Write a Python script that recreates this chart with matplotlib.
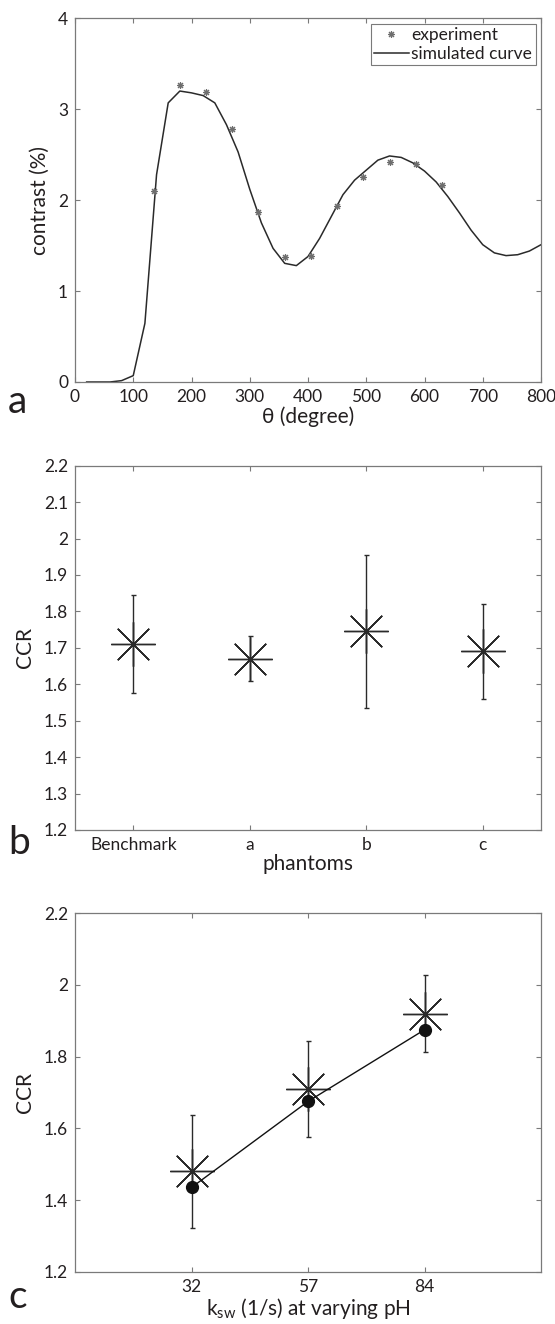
import matplotlib
matplotlib.use('Agg')
import matplotlib.pyplot as plt
import numpy as np

plt.rcParams['font.family'] = ['Lato', 'DejaVu Sans']
plt.rcParams['mathtext.fontset'] = 'custom'
plt.rcParams['mathtext.rm'] = 'Lato'
plt.rcParams['mathtext.it'] = 'Lato:italic'

# (a) contrast vs flip angle
theta_sim = [20, 40, 60, 80, 100, 120, 140, 160, 180, 200, 220, 240, 260, 280, 300,
             320, 340, 360, 380, 400, 420, 440, 460, 480, 500, 520, 540, 560, 580,
             600, 620, 640, 660, 680, 700, 720, 740, 760, 780, 800]
contrast_sim = [0.0, 0.0, 0.0, 0.015, 0.07, 0.645, 2.28, 3.07, 3.20, 3.18, 3.15, 3.07,
                2.83, 2.53, 2.12, 1.75, 1.47, 1.305, 1.28, 1.38, 1.58, 1.82, 2.06, 2.22,
                2.33, 2.44, 2.486, 2.47, 2.41, 2.32, 2.20, 2.04, 1.86, 1.67, 1.51, 1.42,
                1.39, 1.40, 1.44, 1.51]
theta_exp = [135, 180, 225, 270, 315, 360, 405, 450, 495, 540, 585, 630]
contrast_exp = [2.10, 3.27, 3.19, 2.78, 1.87, 1.38, 1.39, 1.94, 2.25, 2.42, 2.40, 2.17]

# (b) CCR per phantom
phantoms = ['Benchmark', 'a', 'b', 'c']
ccr_phantom = [1.71, 1.67, 1.745, 1.69]
ccr_phantom_err = [0.135, 0.062, 0.21, 0.13]

# (c) CCR vs exchange rate
ksw_labels = ['32', '57', '84']
ccr_meas = [1.48, 1.71, 1.92]
ccr_meas_err = [0.158, 0.135, 0.107]
ccr_sim = [1.435, 1.675, 1.875]

TXT = '#231f20'
SPINE = '#7a7a7a'
LINE = '#2a2a2a'

W, H = 555, 1324
fig = plt.figure(figsize=(W / 100, H / 100), dpi=100)


def make_axes(top_px, bottom_px, left_px=75, right_px=541):
    ax = fig.add_axes([left_px / W, 1 - bottom_px / H,
                       (right_px - left_px) / W, (bottom_px - top_px) / H])
    for sp in ax.spines.values():
        sp.set_color(SPINE)
        sp.set_linewidth(0.9)
    ax.tick_params(direction='in', top=True, right=True, length=3.6, width=0.8,
                   color=SPINE, labelcolor=TXT, labelsize=12.5, pad=5)
    return ax


# panel a
ax1 = make_axes(18.3, 382)
ax1.plot(theta_sim, contrast_sim, color=LINE, lw=1.1, label='simulated curve')
ax1.plot(theta_exp, contrast_exp, linestyle='none', marker=(8, 2, 0), ms=5,
         mew=0.8, color='#6e6e6e', label='experiment')
ax1.set_xlim(0, 800)
ax1.set_ylim(0, 4)
ax1.set_xticks(np.arange(0, 801, 100))
ax1.set_yticks([0, 1, 2, 3, 4])
ax1.set_xlabel('θ (degree)', fontsize=15, color=TXT, labelpad=1)
ax1.set_ylabel('contrast (%)', fontsize=15, color=TXT, labelpad=6)
h, l = ax1.get_legend_handles_labels()
leg = ax1.legend(h[::-1], l[::-1], loc='upper right', fontsize=12.5, fancybox=False,
                 framealpha=1, edgecolor=SPINE, borderaxespad=0.3, handlelength=2.0,
                 handletextpad=0.15, borderpad=0.2, labelspacing=0.15)
leg.get_frame().set_linewidth(0.8)
for t in leg.get_texts():
    t.set_color(TXT)

# panel b
ax2 = make_axes(465.7, 830)
ax2.errorbar(range(1, len(phantoms) + 1), ccr_phantom, yerr=ccr_phantom_err,
             fmt='none', ecolor=LINE, elinewidth=1.0, capsize=1.8, capthick=1.0)
ax2.plot(range(1, len(phantoms) + 1), ccr_phantom, linestyle='none',
         marker=(8, 2, 0), ms=32, mew=1.0, color=LINE)
ax2.set_xlim(0.5, len(phantoms) + 0.5)
ax2.set_ylim(1.2, 2.2)
ax2.set_xticks(range(1, len(phantoms) + 1))
ax2.set_xticklabels(phantoms)
yt = np.round(np.arange(1.2, 2.201, 0.1), 1)
ax2.set_yticks(yt)
ax2.set_yticklabels([f'{v:g}' for v in yt])
ax2.set_xlabel('phantoms', fontsize=15, color=TXT, labelpad=1)
ax2.set_ylabel('CCR', fontsize=15, color=TXT, labelpad=6)

# panel c
ax3 = make_axes(913.3, 1271.7)
xc = range(1, len(ksw_labels) + 1)
ax3.errorbar(xc, ccr_meas, yerr=ccr_meas_err, fmt='none', ecolor=LINE,
             elinewidth=1.0, capsize=1.8, capthick=1.0)
ax3.plot(xc, ccr_meas, linestyle='none', marker=(8, 2, 0), ms=32, mew=1.0, color=LINE)
ax3.plot(xc, ccr_sim, color='#111111', lw=1.0, marker='o', ms=8.5,
         markerfacecolor='#111111', markeredgecolor='#111111')
ax3.set_xlim(0, len(ksw_labels) + 1)
ax3.set_ylim(1.2, 2.2)
ax3.set_xticks(list(xc))
ax3.set_xticklabels(ksw_labels)
yt = np.round(np.arange(1.2, 2.201, 0.2), 1)
ax3.set_yticks(yt)
ax3.set_yticklabels([f'{v:g}' for v in yt])
ax3.set_xlabel(r'k$_{\mathrm{sw}}$ (1/s) at varying pH', fontsize=15, color=TXT, labelpad=1)
ax3.set_ylabel('CCR', fontsize=15, color=TXT, labelpad=6)

# panel letters
for letter, y_px in [('a', 402), ('b', 843), ('c', 1297)]:
    fig.text(8 / W, 1 - y_px / H, letter, fontsize=28, color=TXT, va='center', ha='left')

fig.savefig('out.png', dpi=100, facecolor='white')
